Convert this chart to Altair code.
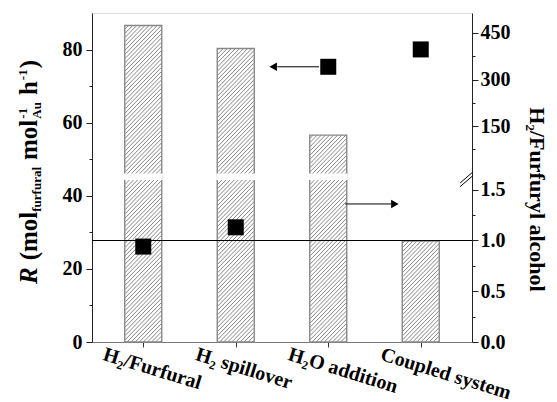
import json
import altair as alt
import pandas as pd

# ---------------- data ----------------
categories = ["H₂/Furfural", "H₂ spillover", "H₂O addition", "Coupled system"]
rate = [86.6, 80.3, 56.6, 27.6]          # R, left axis
ratio = [0.94, 1.13, 341, 397]           # H2/Furfuryl alcohol, right (broken) axis
ref_line = [1.0]

# annotation arrows (x in category-index units, y in right-axis units)
arrow_x1 = [1.45, 2.184]
arrow_x2 = [1.90, 2.68]
arrow_tip = [1.405, 2.72]
arrow_v = [341, 1.36]
arrow_shape = ["triangle-left", "triangle-right"]

# axis break marks (x in index units, y in right-axis plot units)
brk_x1 = [3.426, 3.426]
brk_x2 = [3.563, 3.563]
brk_u1 = [43.5, 42.5]
brk_u2 = [46.5, 45.5]

# ---------------- layout constants ----------------
W_PLOT, H_PLOT = 380, 329
Y_MAX = 90
PXX = W_PLOT / 4
PXY = H_PLOT / Y_MAX
BAR_W = 37
HATCH_S = 4.2
GAP_LO, GAP_HI = 44.3, 46.1

LOW_PX = 101.5       # px per unit on lower part of right axis
UP_PX = 0.31         # px per unit on upper part
UP_BASE_PX = 216     # px height of value 150


def u_of(v):
    if v <= 2:
        return v * LOW_PX / PXY
    return (UP_BASE_PX + (v - 150) * UP_PX) / PXY


u_expr = (f"datum.v <= 2 ? datum.v*{LOW_PX / PXY} : "
          f"({UP_BASE_PX} + (datum.v-150)*{UP_PX})/{PXY}")

FONT = "Liberation Serif"

df = pd.DataFrame({"cat": categories, "idx": list(range(4)), "R": rate, "v": ratio})

xscale = alt.Scale(domain=[-0.5, 3.5], nice=False, zero=False)
yscale_l = alt.Scale(domain=[0, Y_MAX], nice=False)
yscale_r = alt.Scale(domain=[0, Y_MAX], nice=False)

x_axis = alt.Axis(
    values=[0, 1, 2, 3],
    labelExpr=json.dumps(categories, ensure_ascii=False) + "[datum.value]",
    title=None, grid=False, labelAngle=17, labelAlign="left", labelBaseline="top",
    labelOffset=-37, labelPadding=-3, tickSize=5, labelOverlap=False,
    domainColor="#777", tickColor="#333", labelColor="black",
    labelFont=FONT, labelFontSize=20, labelFontWeight="bold",
)

left_axis = alt.Axis(
    values=list(range(0, 81, 10)),
    labelExpr="datum.value % 20 === 0 ? datum.label : ''",
    tickSize={"condition": {"test": "datum.value % 20 === 0", "value": 6}, "value": 3},
    title=None, grid=False, domainColor="#222", tickColor="#222", labelColor="black",
    labelFont=FONT, labelFontSize=20, labelFontWeight="bold", labelPadding=4,
)

r_major = [0, 0.5, 1.0, 1.5, 150, 300, 450]
r_labels = ["0.0", "0.5", "1.0", "1.5", "150", "300", "450"]
r_minor = [0.25, 0.75, 1.25, 75, 225, 375]
r_vals = sorted(round(u_of(v), 4) for v in r_major + r_minor)
lab_expr = ""
for v, lab in zip(r_major, r_labels):
    lab_expr += f"abs(datum.value - {u_of(v):.4f}) < 0.01 ? '{lab}' : "
lab_expr += "''"
major_test = " || ".join(f"abs(datum.value - {u_of(v):.4f}) < 0.01" for v in r_major)

right_axis = alt.Axis(
    orient="right", values=r_vals, labelExpr=lab_expr,
    tickSize={"condition": {"test": major_test, "value": 6}, "value": 3},
    title="H₂/Furfuryl alcohol", titleFont=FONT, titleFontSize=22, titleFontWeight="bold",
    titleColor="black", titlePadding=14, titleY=186,
    grid=False, domainColor="#222", tickColor="#222", labelColor="black",
    labelFont=FONT, labelFontSize=20, labelFontWeight="bold", labelPadding=2,
)

# ---------------- left group: hatched bars ----------------
hatch = (
    alt.Chart(df)
    .transform_calculate(seq="sequence(0, 110)")
    .transform_flatten(["seq"])
    .transform_calculate(H=f"datum.R*{PXY}")
    .transform_calculate(c=f"-{BAR_W} + datum.seq*{HATCH_S} + 1.5")
    .transform_filter("datum.c < datum.H")
    .transform_calculate(xs="max(0, -datum.c)")
    .transform_calculate(xe=f"min({BAR_W}, datum.H - datum.c)")
    .transform_calculate(
        hx1=f"datum.idx - {BAR_W / 2 / PXX} + datum.xs/{PXX}",
        hx2=f"datum.idx - {BAR_W / 2 / PXX} + datum.xe/{PXX}",
        hy1=f"(datum.xs + datum.c)/{PXY}",
        hy2=f"(datum.xe + datum.c)/{PXY}",
    )
    .mark_rule(stroke="#333", strokeWidth=0.6)
    .encode(
        x=alt.X("hx1:Q", scale=xscale, axis=x_axis), x2="hx2:Q",
        y=alt.Y("hy1:Q", scale=yscale_l, axis=left_axis), y2="hy2:Q",
    )
)

bars = (
    alt.Chart(df)
    .mark_bar(size=BAR_W, fill="white", fillOpacity=0, stroke="#888", strokeWidth=1.4)
    .encode(
        x=alt.X("idx:Q", scale=xscale, axis=x_axis),
        y=alt.Y("R:Q", scale=yscale_l, axis=left_axis),
    )
)

gap = (
    alt.Chart(df)
    .transform_filter(f"datum.R > {GAP_HI}")
    .transform_calculate(gx1="datum.idx - 0.21", gx2="datum.idx + 0.21",
                         gy1=str(GAP_LO), gy2=str(GAP_HI))
    .mark_rect(fill="white")
    .encode(
        x=alt.X("gx1:Q", scale=xscale, axis=x_axis), x2="gx2:Q",
        y=alt.Y("gy1:Q", scale=yscale_l, axis=left_axis), y2="gy2:Q",
    )
)

left_group = alt.layer(hatch, bars, gap)

# ---------------- right group ----------------
hline = (
    alt.Chart(pd.DataFrame({"v": ref_line}))
    .transform_calculate(u=u_expr)
    .mark_rule(color="black", strokeWidth=1)
    .encode(y=alt.Y("u:Q", scale=yscale_r, axis=right_axis))
)

squares = (
    alt.Chart(df)
    .transform_calculate(u=u_expr)
    .mark_square(size=256, color="black", opacity=1)
    .encode(
        x=alt.X("idx:Q", scale=xscale, axis=x_axis),
        y=alt.Y("u:Q", scale=yscale_r, axis=right_axis),
    )
)

arr_df = pd.DataFrame({"x1": arrow_x1, "x2": arrow_x2, "tip": arrow_tip,
                       "v": arrow_v, "shape": arrow_shape})
arrow_lines = (
    alt.Chart(arr_df)
    .transform_calculate(u=u_expr)
    .mark_rule(color="black", strokeWidth=1)
    .encode(
        x=alt.X("x1:Q", scale=xscale, axis=x_axis), x2="x2:Q",
        y=alt.Y("u:Q", scale=yscale_r, axis=right_axis),
    )
)
arrow_heads = (
    alt.Chart(arr_df)
    .transform_calculate(u=u_expr)
    .mark_point(filled=True, size=75, color="black", opacity=1)
    .encode(
        x=alt.X("tip:Q", scale=xscale, axis=x_axis),
        y=alt.Y("u:Q", scale=yscale_r, axis=right_axis),
        shape=alt.Shape("shape:N", scale=None),
    )
)

brk_df = pd.DataFrame({"x1": brk_x1, "x2": brk_x2, "u1": brk_u1, "u2": brk_u2})
breaks = (
    alt.Chart(brk_df)
    .mark_rule(color="black", strokeWidth=1)
    .encode(
        x=alt.X("x1:Q", scale=xscale, axis=x_axis), x2="x2:Q",
        y=alt.Y("u1:Q", scale=yscale_r, axis=right_axis), y2="u2:Q",
    )
)

right_group = alt.layer(hline, arrow_lines, arrow_heads, squares, breaks)

# ---------------- left axis title built from pieces ----------------
GW = {"m": 833, "o": 500, "l": 278, "f": 333, "u": 556, "r": 444, "a": 500,
      "h": 556, "A": 722, "-": 333, "1": 500, "(": 333, ")": 333, "R": 667}


def adv(s, size):
    return sum(GW[c] for c in s) * size / 1000


MAIN, SMALL = 25, 13
X_BASE = -55
SP = 7
pieces = []  # (text, size, x, y, style)
y = 284 - 13
pieces.append(("R", MAIN, X_BASE, y, "italic")); y -= adv("R", MAIN) + SP
pieces.append(("(mol", MAIN, X_BASE, y, "normal")); y -= adv("(mol", MAIN)
pieces.append(("furfural", SMALL, X_BASE + 4, y, "normal")); y -= adv("furfural", SMALL) + SP
pieces.append(("mol", MAIN, X_BASE, y, "normal")); y -= adv("mol", MAIN) + 1
pieces.append(("-1", SMALL, X_BASE - 10, y, "normal"))
pieces.append(("Au", SMALL, X_BASE + 4, y, "normal")); y -= adv("Au", SMALL) + SP
pieces.append(("h", MAIN, X_BASE, y, "normal")); y -= adv("h", MAIN) + 1
pieces.append(("-1", SMALL, X_BASE - 10, y, "normal")); y -= adv("-1", SMALL) + 1
pieces.append((")", MAIN, X_BASE, y, "normal"))

title_layers = []
for txt, size, px, py, style in pieces:
    title_layers.append(
        alt.Chart(alt.Data(values=[{"t": txt}]))
        .mark_text(angle=270, align="left", baseline="alphabetic", font=FONT,
                   fontSize=size, fontWeight="bold", fontStyle=style, color="black")
        .encode(text="t:N", x=alt.value(px), y=alt.value(py))
    )

chart = (
    alt.layer(left_group, right_group, *title_layers)
    .resolve_scale(y="independent")
    .properties(width=W_PLOT, height=H_PLOT,
                autosize=alt.AutoSizeParams(type="none"),
                padding={"left": 84, "top": 5, "right": 77, "bottom": 60})
    .configure_view(stroke="#555", strokeWidth=1)
    .configure(background="white")
)

chart.save("out.html", embed_options={"renderer": "svg", "actions": False})
